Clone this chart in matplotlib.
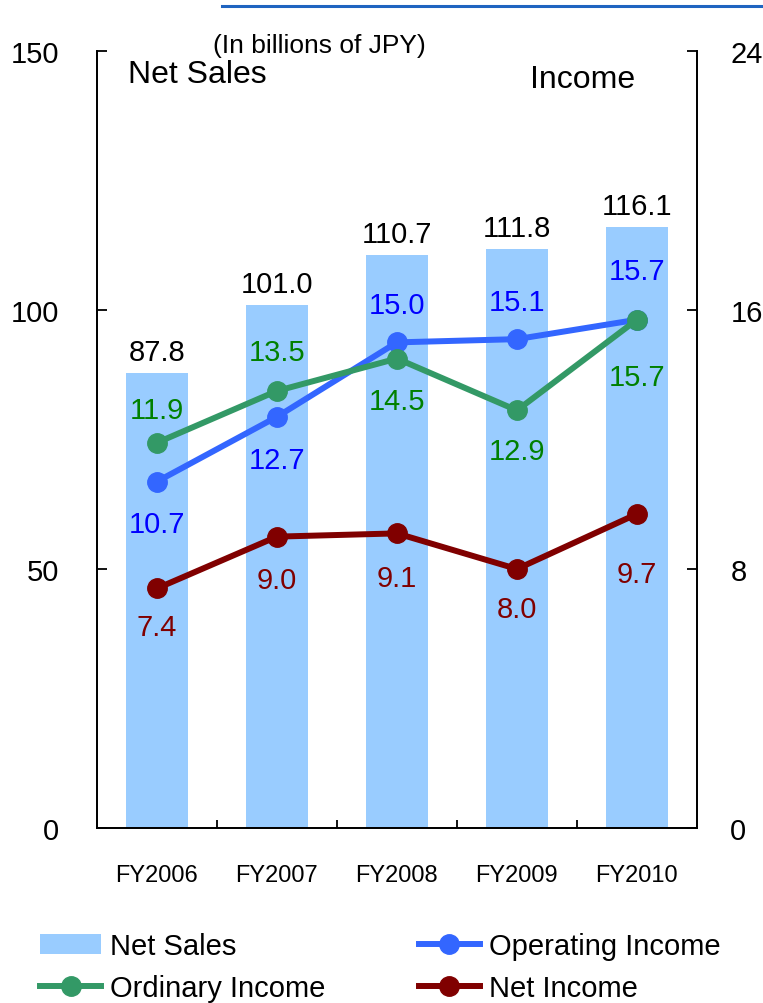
import matplotlib.pyplot as plt
from matplotlib.lines import Line2D

plt.rcParams['font.family'] = ['Liberation Sans', 'DejaVu Sans']

# Fiscal years and results (billions of JPY)
years = ['FY2006', 'FY2007', 'FY2008', 'FY2009', 'FY2010']
net_sales = [87.8, 101.0, 110.7, 111.8, 116.1]
operating_income = [10.7, 12.7, 15.0, 15.1, 15.7]
ordinary_income = [11.9, 13.5, 14.5, 12.9, 15.7]
net_income = [7.4, 9.0, 9.1, 8.0, 9.7]

# Vertical label offsets in pixels (positive = below the marker)
op_offsets = [42, 43, -37, -37, -49]
ord_offsets = [-33, -39, 42, 41, 57]
net_offsets = [39, 43, 45, 40, 60]

fig = plt.figure(figsize=(7.63, 10.04), dpi=100)
ax = fig.add_axes([0.127, 0.1743, 0.7864, 0.7739])
ax2 = ax.twinx()

x = range(len(years))
bars = ax.bar(x, net_sales, width=0.51, color='#99CCFF', label='Net Sales', zorder=1)
ax.set_xlim(-0.5, len(years) - 0.5)
ax.set_ylim(0, 150)
ax.set_yticks([0, 50, 100, 150])
ax2.set_ylim(0, 24)
ax2.set_yticks([0, 8, 16, 24])

for xi, v in zip(x, net_sales):
    ax.annotate(f'{v:.1f}', (xi, v), xytext=(0, 21), textcoords='offset pixels',
                ha='center', va='center', fontsize=21, color='black')

series = [
    (operating_income, '#3366FF', '#0000FF', 'Operating Income', op_offsets),
    (ordinary_income, '#339966', '#008000', 'Ordinary Income', ord_offsets),
    (net_income, '#800000', '#800000', 'Net Income', net_offsets),
]
handles = {}
for vals, lc, tc, name, offs in series:
    ln, = ax2.plot(x, vals, color=lc, lw=4.3, marker='o', markersize=14,
                   label=name, zorder=3)
    handles[name] = ln
    for xi, v, off in zip(x, vals, offs):
        ax2.annotate(f'{v:.1f}', (xi, v), xytext=(0, -off), textcoords='offset pixels',
                     ha='center', va='center', fontsize=21, color=tc)

# Spines and ticks
for a in (ax, ax2):
    a.spines['top'].set_visible(False)
    for s in ('left', 'right', 'bottom'):
        a.spines[s].set_linewidth(1.3)
ax.tick_params(axis='y', direction='in', length=7, width=1.3, pad=27, labelsize=21)
ax2.tick_params(axis='y', direction='in', length=7, width=1.3, pad=24, labelsize=21)
ax.set_xticks(list(x))
ax.set_xticklabels(years)
ax.set_xticks([i + 0.5 for i in range(len(years) - 1)], minor=True)
ax.tick_params(axis='x', which='major', length=0, pad=26, labelsize=17)
ax.tick_params(axis='x', which='minor', direction='in', length=6, width=1.3)

# Headings
fig.text(0.419, 0.954, '(In billions of JPY)', ha='center', va='center', fontsize=19)
fig.text(0.168, 0.925, 'Net Sales', ha='left', va='center', fontsize=23)
fig.text(0.763, 0.920, 'Income', ha='center', va='center', fontsize=23)

# Rule along the top
fig.add_artist(Line2D([222 / 763, 1.0], [1 - 7 / 1004] * 2, color='#1F64C0', lw=2.2,
                      transform=fig.transFigure))

order = [bars, handles['Ordinary Income'], handles['Operating Income'], handles['Net Income']]
fig.legend(order, [h.get_label() for h in order], ncol=2, loc='upper left',
           bbox_to_anchor=(40 / 763, 1 - 933 / 1004), frameon=False, fontsize=21,
           handlelength=2.1, handletextpad=0.3, columnspacing=3.2, labelspacing=0.48,
           borderpad=0, borderaxespad=0)

fig.savefig('out.png', dpi=100)
